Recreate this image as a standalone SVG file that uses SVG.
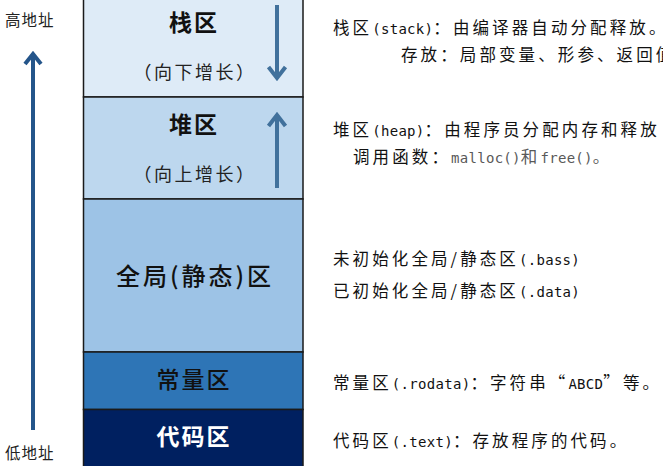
<svg xmlns="http://www.w3.org/2000/svg" width="663" height="466" viewBox="0 0 663 466">
<defs>
<style>
.cjk{font-family:"Noto Sans CJK SC","Noto Sans",sans-serif;}
.title{font-size:23px;font-weight:bold;fill:#111;text-anchor:middle;letter-spacing:2px;}
.sub{font-size:18px;fill:#222;text-anchor:middle;letter-spacing:2.5px;}
.desc{font-size:16.5px;fill:#111;letter-spacing:3.1px;}
.lat{font-family:"DejaVu Sans Mono","Liberation Mono",monospace;font-size:14px;letter-spacing:0.3px;}
.gray{fill:#595959;}
.side{font-size:15.5px;fill:#222;letter-spacing:1px;}
.arrowR{stroke:#41719C;stroke-width:4;fill:none;stroke-linecap:butt;}
.arrowL{stroke:#24558A;stroke-width:4;fill:none;}
</style>
</defs>
<rect width="663" height="466" fill="#ffffff"/>

<g id="stack">
<rect x="83.5" y="-2" width="219.5" height="99" fill="#DEEBF7" stroke="#1a1a1a" stroke-width="1.5"/>
<text class="cjk title" x="194" y="31">栈区</text>
<text class="cjk sub" x="195" y="79">（向下增长）</text>
</g>
<g id="heap">
<rect x="83.5" y="97" width="219.5" height="102" fill="#BDD7EE" stroke="#1a1a1a" stroke-width="1.5"/>
<text class="cjk title" x="194" y="133">堆区</text>
<text class="cjk sub" x="195" y="181">（向上增长）</text>
</g>
<g id="global">
<rect x="83.5" y="199" width="219.5" height="153" fill="#9DC3E6" stroke="#1a1a1a" stroke-width="1.5"/>
<text class="cjk" x="195" y="285" font-size="24" fill="#111" text-anchor="middle" font-weight="500" letter-spacing="3">全局(静态)区</text>
</g>
<g id="const">
<rect x="83.5" y="352" width="219.5" height="57.5" fill="#2E75B6" stroke="#1a1a1a" stroke-width="1.5"/>
<text class="cjk" x="194" y="388" font-size="23" fill="#111" text-anchor="middle" font-weight="500" letter-spacing="2">常量区</text>
</g>
<g id="code">
<rect x="83.5" y="409.5" width="219.5" height="60" fill="#002060" stroke="#1a1a1a" stroke-width="1.5"/>
<text class="cjk title" x="194" y="445" style="fill:#ffffff">代码区</text>
</g>

<g id="labels">
<text class="cjk side" x="5" y="26">高地址</text>
<text class="cjk side" x="5" y="459">低地址</text>
</g>

<g id="descriptions">
<text class="cjk desc" x="333" y="34">栈区<tspan class="lat">(stack)</tspan>：由编译器自动分配释放。</text>
<text class="cjk desc" x="401" y="61">存放：局部变量、形参、返回值</text>
<text class="cjk desc" x="333" y="136">堆区<tspan class="lat">(heap)</tspan>：由程序员分配内存和释放</text>
<text class="cjk desc" x="353" y="163">调用函数：<tspan class="gray"><tspan class="lat">malloc()</tspan>和<tspan class="lat">free()</tspan>。</tspan></text>
<text class="cjk desc" x="333" y="265">未初始化全局/静态区<tspan class="lat">(.bass)</tspan></text>
<text class="cjk desc" x="333" y="297">已初始化全局/静态区<tspan class="lat">(.data)</tspan></text>
<text class="cjk desc" x="333" y="389">常量区<tspan class="lat">(.rodata)</tspan>：字符串“<tspan class="lat">ABCD</tspan>”等。</text>
<text class="cjk desc" x="333" y="447">代码区<tspan class="lat">(.text)</tspan>：存放程序的代码。</text>
</g>

<g id="connectors">
<path class="arrowR" d="M277 5 V78 M268.5 67 L277 78 L285.5 67"/>
<path class="arrowR" d="M277 188 V115 M268.5 126 L277 115 L285.5 126"/>
<path class="arrowL" d="M33 430 V54 M25 64 L33 54 L41 64"/>
</g>
</svg>
